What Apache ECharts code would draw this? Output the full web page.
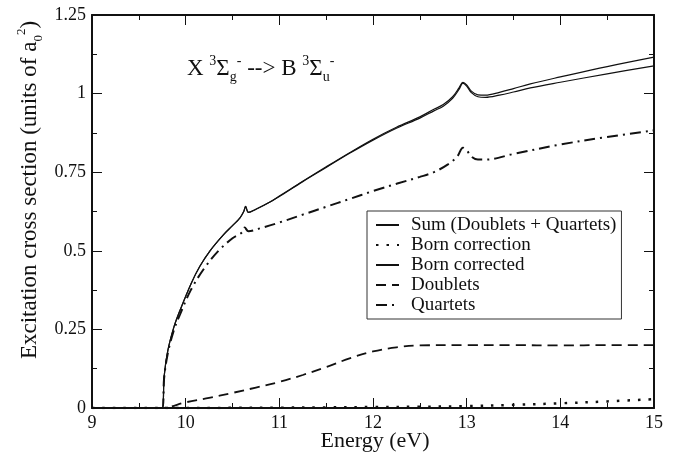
<!DOCTYPE html>
<html>
<head>
<meta charset="utf-8">
<script src="https://cdn.jsdelivr.net/npm/echarts@6/dist/echarts.min.js"></script>
<style>
html,body{margin:0;padding:0;background:#fff;}
#chart{width:697px;height:457px;}
</style>
</head>
<body>
<div id="chart"></div>
<script>
// ---- data ----
var sumX = [9, 9.75, 9.77, 9.81, 9.875, 9.94, 10.06, 10.15, 10.26, 10.4, 10.5, 10.58, 10.62, 10.64, 10.67, 10.75, 10.9, 11, 11.25, 11.5, 11.75, 12, 12.25, 12.5, 12.65, 12.75, 12.85, 12.92, 12.96, 13.0, 13.05, 13.12, 13.2, 13.35, 13.5, 13.68, 14, 14.5, 15];
var sumY = [0, 0, 0.1, 0.183, 0.258, 0.311, 0.397, 0.45, 0.5, 0.55, 0.58, 0.605, 0.625, 0.641, 0.622, 0.632, 0.655, 0.673, 0.72, 0.765, 0.81, 0.852, 0.89, 0.922, 0.945, 0.96, 0.985, 1.014, 1.033, 1.024, 1.003, 0.99, 0.988, 0.995, 1.005, 1.018, 1.036, 1.063, 1.088];

var bornCorrX = [9, 9.75, 10.5, 11, 11.5, 12, 12.5, 13, 13.5, 14, 14.5, 15];
var bornCorrY = [0, 0, 0.0005, 0.001, 0.002, 0.003, 0.004, 0.006, 0.01, 0.015, 0.021, 0.028];

var bornCorrectedX = [9, 9.75, 9.77, 9.81, 9.875, 9.94, 10.06, 10.15, 10.26, 10.4, 10.5, 10.58, 10.62, 10.64, 10.67, 10.75, 10.9, 11, 11.25, 11.5, 11.75, 12, 12.25, 12.5, 12.65, 12.75, 12.85, 12.92, 12.96, 13.0, 13.05, 13.12, 13.2, 13.35, 13.5, 13.68, 14, 14.5, 15];
var bornCorrectedY = [0, 0, 0.1, 0.183, 0.258, 0.311, 0.397, 0.45, 0.5, 0.55, 0.58, 0.605, 0.625, 0.641, 0.622, 0.632, 0.655, 0.674, 0.721, 0.767, 0.812, 0.855, 0.893, 0.926, 0.95, 0.965, 0.99, 1.019, 1.036, 1.028, 1.008, 0.996, 0.995, 1.004, 1.016, 1.031, 1.053, 1.086, 1.116];

var doubletsX = [9, 9.75, 10, 10.25, 10.5, 10.75, 11, 11.25, 11.5, 11.75, 12, 12.25, 12.5, 13, 13.5, 14, 14.5, 15];
var doubletsY = [0, 0, 0.018, 0.032, 0.048, 0.065, 0.083, 0.105, 0.13, 0.158, 0.18, 0.193, 0.199, 0.2, 0.2, 0.199, 0.2, 0.2];

var quartetsX = [9, 9.75, 9.77, 9.81, 9.875, 9.94, 10.06, 10.2, 10.35, 10.5, 10.6, 10.63, 10.67, 10.8, 11, 11.25, 11.5, 11.75, 12, 12.25, 12.5, 12.65, 12.8, 12.9, 12.96, 13.0, 13.05, 13.12, 13.2, 13.5, 14, 14.5, 15];
var quartetsY = [0, 0, 0.095, 0.175, 0.248, 0.298, 0.378, 0.445, 0.5, 0.54, 0.558, 0.574, 0.562, 0.572, 0.59, 0.615, 0.64, 0.665, 0.69, 0.713, 0.735, 0.75, 0.775, 0.8, 0.828, 0.82, 0.8, 0.79, 0.79, 0.808, 0.838, 0.862, 0.883];

var seriesNames = ['Sum (Doublets + Quartets)', 'Born correction', 'Born corrected', 'Doublets', 'Quartets'];
var xTicks = [9, 10, 11, 12, 13, 14, 15];
var yTicks = [0, 0.25, 0.5, 0.75, 1, 1.25];

function pairs(xs, ys) { return xs.map(function (x, i) { return [x, ys[i]]; }); }

var FONT = '"Liberation Serif", "DejaVu Serif", serif';
var INK = '#111';

var chart = echarts.init(document.getElementById('chart'), null, {renderer: 'canvas'});

function axisCommon(show) {
  return {
    axisLine: {show: true, onZero: false, lineStyle: {color: INK, width: 2}},
    axisTick: {show: true, inside: true, length: 10, lineStyle: {color: INK, width: 1}},
    minorTick: {show: true, splitNumber: 2, length: 5, lineStyle: {color: INK, width: 1}},
    splitLine: {show: false},
    axisLabel: {show: show, color: INK, fontFamily: FONT, fontSize: 18, margin: 6}
  };
}

function lineSeries(name, xs, ys, lineStyle, z) {
  return {
    name: name, type: 'line', data: pairs(xs, ys),
    showSymbol: false, symbol: 'none', smooth: 0.35,
    lineStyle: Object.assign({color: INK}, lineStyle),
    itemStyle: {color: INK},
    z: z || 2, animation: false
  };
}

var option = {
  animation: false,
  backgroundColor: '#fff',
  grid: {left: 92, right: 43, top: 15, bottom: 49, containLabel: false},
  xAxis: [
    Object.assign({type: 'value', min: xTicks[0], max: xTicks[xTicks.length - 1], interval: 1, position: 'bottom'}, axisCommon(true)),
    Object.assign({type: 'value', min: xTicks[0], max: xTicks[xTicks.length - 1], interval: 1, position: 'top'}, axisCommon(false))
  ],
  yAxis: [
    Object.assign({type: 'value', min: yTicks[0], max: yTicks[yTicks.length - 1], interval: 0.25, position: 'left'}, axisCommon(true)),
    Object.assign({type: 'value', min: yTicks[0], max: yTicks[yTicks.length - 1], interval: 0.25, position: 'right'}, axisCommon(false))
  ],
  legend: {
    orient: 'vertical', left: 367, top: 211,
    data: seriesNames,
    borderColor: '#333', borderWidth: 1, borderRadius: 0,
    padding: [4, 5, 4, 8],
    itemWidth: 23, itemHeight: 14, itemGap: 0,
    itemStyle: {opacity: 0},
    textStyle: {color: INK, fontFamily: FONT, fontSize: 19, lineHeight: 20, padding: [0, 0, 0, 7]},
    selectedMode: false,
    backgroundColor: '#fff'
  },
  graphic: [
    {
      type: 'text', left: 187, top: 54,
      style: {
        text: '{n|X }{sup|3}{n|Σ}{sub|g}{sup|-}{n| --> B }{sup|3}{n|Σ}{sub|u}{sup|-}',
        fill: INK,
        rich: {
          n: {fontFamily: FONT, fontSize: 23, lineHeight: 30, verticalAlign: 'middle', fill: INK},
          sup: {fontFamily: FONT, fontSize: 14, lineHeight: 18, verticalAlign: 'top', fill: INK},
          sub: {fontFamily: FONT, fontSize: 14, lineHeight: 14, verticalAlign: 'bottom', fill: INK}
        }
      }
    },
    {
      type: 'text', x: 375, y: 441,
      style: {text: 'Energy (eV)', fill: INK, font: '22px ' + FONT, align: 'center', verticalAlign: 'middle'}
    },
    {
      type: 'text', x: 30, y: 190, rotation: Math.PI / 2,
      style: {
        text: '{n|Excitation cross section (units of a}{sub|0}{sup|2}{n|)}',
        align: 'center', verticalAlign: 'middle', fill: INK,
        rich: {
          n: {fontFamily: FONT, fontSize: 23, lineHeight: 30, verticalAlign: 'middle', fill: INK},
          sup: {fontFamily: FONT, fontSize: 13, lineHeight: 18, verticalAlign: 'top', fill: INK},
          sub: {fontFamily: FONT, fontSize: 13, lineHeight: 14, verticalAlign: 'bottom', fill: INK}
        }
      }
    }
  ],
  series: [
    lineSeries(seriesNames[0], sumX, sumY, {width: 1.2, type: 'solid'}, 3),
    lineSeries(seriesNames[1], bornCorrX, bornCorrY, {width: 2.5, type: [2.5, 8], cap: 'butt'}, 2),
    lineSeries(seriesNames[2], bornCorrectedX, bornCorrectedY, {width: 1.2, type: 'solid'}, 3),
    lineSeries(seriesNames[3], doubletsX, doubletsY, {width: 1.8, type: [10, 6]}, 2),
    lineSeries(seriesNames[4], quartetsX, quartetsY, {width: 2, type: [11, 5, 2, 5]}, 2)
  ]
};
chart.setOption(option);
</script>
</body>
</html>
